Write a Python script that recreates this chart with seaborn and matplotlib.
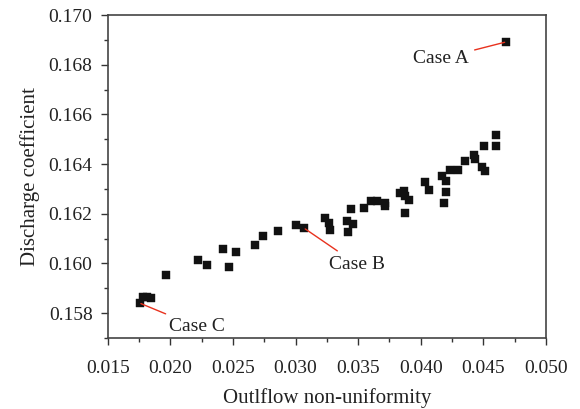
import numpy as np
import pandas as pd
import matplotlib
matplotlib.use("Agg")
import matplotlib.pyplot as plt
from matplotlib.ticker import MultipleLocator
import seaborn as sns

# ---------- data ----------
outflow = [0.01754, 0.01782, 0.01814, 0.01842, 0.01962, 0.02220, 0.02290,
           0.02423, 0.02468, 0.02527, 0.02674, 0.02740, 0.02856, 0.03000,
           0.03068, 0.03232, 0.03268, 0.03278, 0.03442, 0.03410, 0.03456,
           0.03420, 0.03549, 0.03600, 0.03648, 0.03712, 0.03718, 0.03834,
           0.03864, 0.03878, 0.03909, 0.03874, 0.04034, 0.04069, 0.04174,
           0.04205, 0.04206, 0.04186, 0.04238, 0.04296, 0.04357, 0.04426,
           0.04438, 0.04494, 0.04514, 0.04509, 0.04605, 0.04601, 0.04682]
discharge = [0.15840, 0.15865, 0.15865, 0.15859, 0.15952, 0.16012, 0.15992,
             0.16058, 0.15985, 0.16047, 0.16073, 0.16110, 0.16130, 0.16156,
             0.16142, 0.16181, 0.16161, 0.16135, 0.16218, 0.16172, 0.16157,
             0.16126, 0.16224, 0.16251, 0.16252, 0.16243, 0.16230, 0.16283,
             0.16291, 0.16272, 0.16254, 0.16202, 0.16327, 0.16294, 0.16352,
             0.16332, 0.16289, 0.16244, 0.16375, 0.16375, 0.16413, 0.16435,
             0.16421, 0.16388, 0.16371, 0.16472, 0.16471, 0.16516, 0.16892]

case_labels = ["Case A", "Case B", "Case C"]
case_index = [48, 14, 0]                       # which point each label marks
case_offset = [(-47, -12), (38, -26), (41, -17)]  # text offset in points

df = pd.DataFrame({"outflow": outflow, "discharge": discharge})

# ---------- plot ----------
sns.set_style("ticks")
plt.rcParams["font.family"] = ["Liberation Serif", "DejaVu Serif"]

fig, ax = plt.subplots(figsize=(5.8, 4.09), dpi=100)
fig.subplots_adjust(left=0.186, right=0.941, top=0.963, bottom=0.174)

sns.scatterplot(data=df, x="outflow", y="discharge", marker="s", s=36,
                color="#111111", edgecolor="#111111", linewidth=0.3, ax=ax)

for label, idx, off in zip(case_labels, case_index, case_offset):
    ax.annotate(label, xy=(outflow[idx], discharge[idx]), xytext=off,
                textcoords="offset points", ha="center", va="center",
                fontsize=14, color="#222222",
                arrowprops=dict(arrowstyle="-", color="#e8321e", lw=1.0,
                                shrinkA=2, shrinkB=1))

ax.set_xlim(0.015, 0.050)
ax.set_ylim(0.157, 0.170)
ax.xaxis.set_major_locator(MultipleLocator(0.005))
ax.xaxis.set_minor_locator(MultipleLocator(0.0025))
ax.yaxis.set_major_locator(MultipleLocator(0.002))
ax.yaxis.set_minor_locator(MultipleLocator(0.001))
ax.xaxis.set_major_formatter(plt.FormatStrFormatter("%.3f"))
ax.yaxis.set_major_formatter(plt.FormatStrFormatter("%.3f"))

ax.set_xlabel("Outlflow non-uniformity", fontsize=15, color="#222222", labelpad=8)
ax.set_ylabel("Discharge coefficient", fontsize=15, color="#222222", labelpad=6)

ax.tick_params(which="major", direction="out", length=5, width=1.0,
               labelsize=14, colors="#333333", labelcolor="#222222", pad=6)
ax.tick_params(axis="x", which="major", pad=11)
ax.tick_params(which="minor", direction="out", length=3, width=1.0,
               colors="#333333")
ax.tick_params(top=False, right=False, which="both")

for sp in ax.spines.values():
    sp.set_visible(True)
    sp.set_color("#444444")
    sp.set_linewidth(1.2)

plt.savefig("out.png", dpi=100)
plt.close()
